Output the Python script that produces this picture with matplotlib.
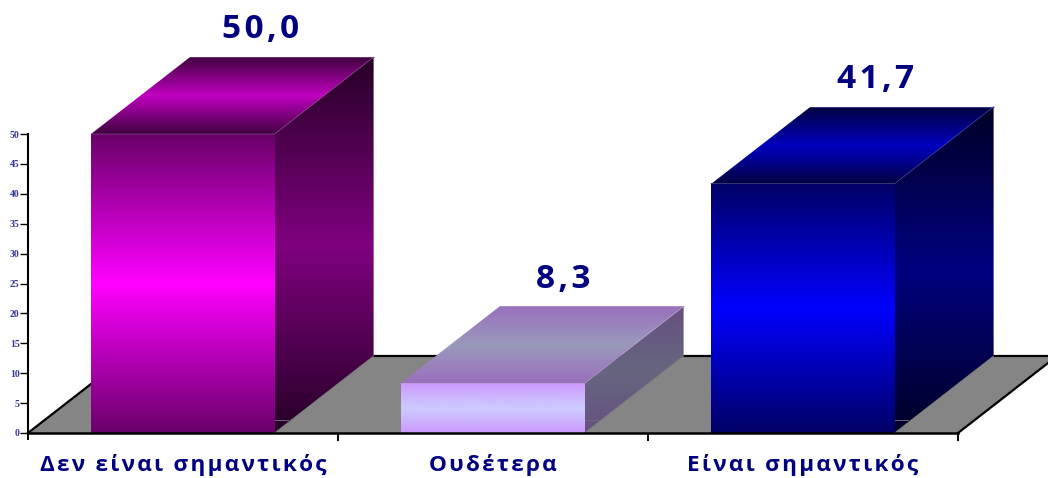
"""
Three survey answers drawn as 3D looking bars with gradient faces.
"""

import numpy as np
import matplotlib
matplotlib.use("Agg")
import matplotlib.pyplot as plt
from matplotlib.colors import LinearSegmentedColormap
from matplotlib.patches import Polygon
from matplotlib.transforms import Affine2D

categories = ["Δεν είναι σημαντικός", "Ουδέτερα", "Είναι σημαντικός"]
values = [50.0, 8.3, 41.7]
value_labels = ["50,0", "8,3", "41,7"]
y_ticks = [0, 5, 10, 15, 20, 25, 30, 35, 40, 45, 50]

# gradient stops per bar: (edge, middle) for front, side and top
front_colors = [("#6a006a", "#ff00ff"), ("#cc99ff", "#ccccff"), ("#000066", "#0000ff")]
side_colors = [("#260026", "#7f007f"), ("#66507f", "#666680"), ("#000026", "#00007f")]
top_colors = [("#400040", "#c000c0"), ("#9a70bc", "#9999bb"), ("#000040", "#0000c0")]
edge_colors = ["#8a4a8a", "#b49ad0", "#4a4a9a"]

BAR_WIDTH = 0.592
BAR_CENTER = 0.4995
DX = 99 / 310    # depth of the floor in category units
DY = 77 / 299 * 50    # depth of the floor in value units
W, H = 1048, 478
TEXT_BLUE = "#000080"
FONT = ["Open Sans", "DejaVu Sans"]
LABEL_SHIFT = [0.25, 0.228, 0.233]    # value labels, right of the bar centre


def make_image(ax, colors, z):
    cmap = LinearSegmentedColormap.from_list("face", [colors[0], colors[1], colors[0]])
    shade = np.linspace(0, 1, 256).reshape(-1, 1).repeat(2, axis=1)
    im = ax.imshow(shade, cmap=cmap, vmin=0, vmax=1, origin="lower", extent=(0, 1, 0, 1),
                   aspect="auto", interpolation="bilinear", zorder=z)
    return im


def face(ax, origin, across, up, colors, z):
    """Draw one face as a gradient image sheared onto a parallelogram."""
    im = make_image(ax, colors, z)
    to_data = Affine2D.from_values(across[0], across[1], up[0], up[1], origin[0], origin[1])
    im.set_transform(to_data + ax.transData)
    im.set_clip_on(False)


def side_face(ax, right, value, colors, z):
    """Side face: the bands stay level, the image is cut to the parallelogram."""
    im = make_image(ax, colors, z)
    to_data = Affine2D.from_values(DX, 0, 0, value + DY, right, 0)
    im.set_transform(to_data + ax.transData)
    corners = [(right, 0), (right + DX, DY), (right + DX, value + DY), (right, value)]
    im.set_clip_box(ax.figure.bbox)
    im.set_clip_path(Polygon(corners, transform=ax.transData))


def draw_bar(ax, i, value):
    left = i + BAR_CENTER - BAR_WIDTH / 2
    right = left + BAR_WIDTH
    z = 3 + i

    side_face(ax, right, value, side_colors[i], z)
    face(ax, (left, 0), (BAR_WIDTH, 0), (0, value), front_colors[i], z + 0.1)
    face(ax, (left, value), (BAR_WIDTH, 0), (DX, DY), top_colors[i], z + 0.1)

    # thin light edges between the faces
    ax.plot([left + DX, right + DX], [value + DY, value + DY],
            color=edge_colors[i], lw=0.5, zorder=z + 0.2, clip_on=False)
    ax.plot([left, right, right + DX], [value, value, value + DY],
            color=edge_colors[i], lw=0.5, zorder=z + 0.2, clip_on=False)
    ax.plot([right, right + DX], [0, DY], color="#808080", lw=0.6, zorder=z + 0.2, clip_on=False)
    ax.plot([right, right + 0.042], [2.2, 2.2], color="#6a6a7a", lw=0.7,
            zorder=z + 0.2, clip_on=False)


def plot():
    fig = plt.figure(figsize=(W / 100, H / 100), dpi=100, facecolor="white")
    ax = fig.add_axes([28 / W, 1 - 433 / H, 930 / W, 299 / H])
    ax.patch.set_visible(False)

    # floor
    ax.fill([0, 3, 3 + DX, DX], [0, 0, DY, DY], color="#858585", zorder=1, clip_on=False)
    ax.plot([0, DX, 3 + DX], [0, DY, DY], color="black", lw=1.6, zorder=2, clip_on=False)
    ax.plot([3, 3 + DX], [0, DY], color="black", lw=1.6, zorder=2, clip_on=False)

    for i, value in enumerate(values):
        draw_bar(ax, i, value)
        ax.text(i + 0.5 + LABEL_SHIFT[i], value + DY + 3.1, "\u200a".join(value_labels[i]),
                ha="center", va="baseline", fontsize=24, color=TEXT_BLUE,
                family=FONT, fontweight="bold", clip_on=False)

    ax.set_xlim(0, 3)
    ax.set_ylim(0, 50)
    ax.set_xticks([1, 2, 3])
    ax.set_xticklabels([])
    ax.tick_params(axis="x", length=6, width=1.4, direction="out", color="black")
    ax.set_yticks(y_ticks)
    ax.set_yticklabels([str(t) for t in y_ticks], fontsize=7, color="#333399",
                       family="Liberation Serif", fontweight="bold")
    ax.tick_params(axis="y", length=5.5, width=1.0, pad=0.5, color="black")
    ax.plot([0, 0], [-1, 0], color="black", lw=1.4, clip_on=False)

    for side in ("top", "right"):
        ax.spines[side].set_visible(False)
    ax.spines["left"].set_linewidth(1.5)
    ax.spines["bottom"].set_linewidth(1.8)
    ax.spines["left"].set_zorder(8)
    ax.spines["bottom"].set_zorder(8)

    for i, name in enumerate(categories):
        ax.text(i + 0.5, -6.4, "\u200a".join(name), ha="center", va="baseline", fontsize=16.2,
                color=TEXT_BLUE, family=FONT, fontweight="bold", clip_on=False)

    fig.savefig("out.png", dpi=100)


plot()
